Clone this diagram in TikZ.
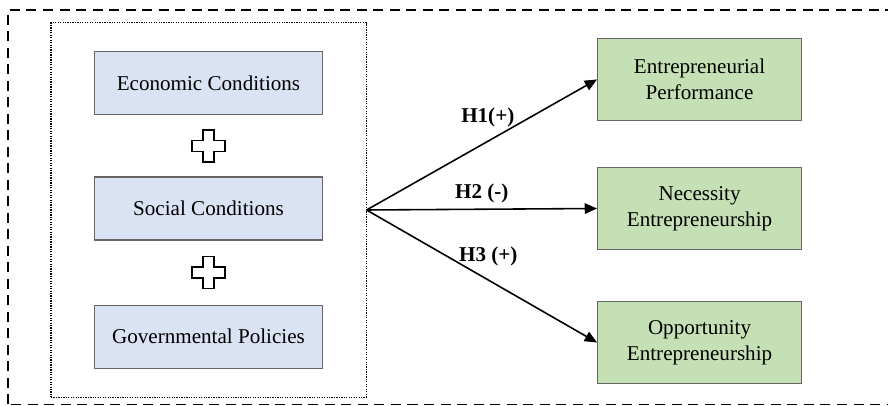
\documentclass[tikz,border=0pt]{standalone}
\usepackage{fontspec}
\setmainfont{Liberation Serif}
\usetikzlibrary{fit,positioning}
\usetikzlibrary{arrows.meta}

\definecolor{boxblue}{HTML}{DAE3F3}
\definecolor{boxgreen}{HTML}{C5E0B4}

\tikzset{plussign/.pic={
  \draw[line width=0.9pt] (-0.11,0.32) -- (0.11,0.32) -- (0.11,0.11) -- (0.33,0.11) -- (0.33,-0.11) -- (0.11,-0.11)
    -- (0.11,-0.32) -- (-0.11,-0.32) -- (-0.11,-0.11) -- (-0.33,-0.11) -- (-0.33,0.11) -- (-0.11,0.11) -- cycle;
}}

\begin{document}
\begin{tikzpicture}[inbox/.style={draw=black!60, fill=boxblue, line width=0.6pt, minimum width=4.56cm, minimum height=1.26cm, font=\fontsize{12}{15}\selectfont},
outbox/.style={draw=black!60, fill=boxgreen, line width=0.6pt, minimum width=4.08cm, minimum height=1.64cm, align=center, font=\fontsize{12}{15}\selectfont},
hyp/.style={font=\fontsize{12}{15}\selectfont\bfseries},
link/.style={-{Triangle[length=7pt,width=6pt]}, line width=0.9pt}]

\useasboundingbox (0,0) rectangle (17.76,8.12);
\clip (0,0) rectangle (17.76,8.12);

% outer frame, cut at right and bottom
\draw[line width=0.9pt, dash pattern=on 5.7pt off 3.7pt] (0.16,0.03) rectangle (18.5,7.92);

\node[inbox] (social) at (4.17,3.95) {Social Conditions};
\node[inbox, above=1.22cm of social] (econ) {Economic Conditions};
\node[inbox, below=1.28cm of social] (gov) {Governmental Policies};

\node[draw, line width=0.6pt, dash pattern=on 0.7pt off 0.7pt, inner xsep=0.86cm, inner ysep=0.57cm, fit=(econ)(gov)] (frame) {};

\path (econ) -- (social) coordinate[midway] (plusA);
\path (social) -- (gov) coordinate[midway] (plusB);
\pic at (plusA) {plussign};
\pic at (plusB) {plussign};

\node[outbox, right=5.48cm of social] (need) {Necessity\\Entrepreneurship};
\node[outbox, above=0.92cm of need] (perf) {Entrepreneurial\\Performance};
\node[outbox, below=1.02cm of need] (opp) {Opportunity\\Entrepreneurship};

\draw[link] (frame.east) -- (perf.west) node[midway, above=0.22cm, xshift=0.12cm, hyp] {H1(+)};
\draw[link] (frame.east) -- (need.west) node[midway, above, hyp] {H2 (-)};
\draw[link] (frame.east) -- (opp.west) node[midway, above=0.08cm, xshift=0.13cm, hyp] {H3 (+)};

\end{tikzpicture}
\end{document}
